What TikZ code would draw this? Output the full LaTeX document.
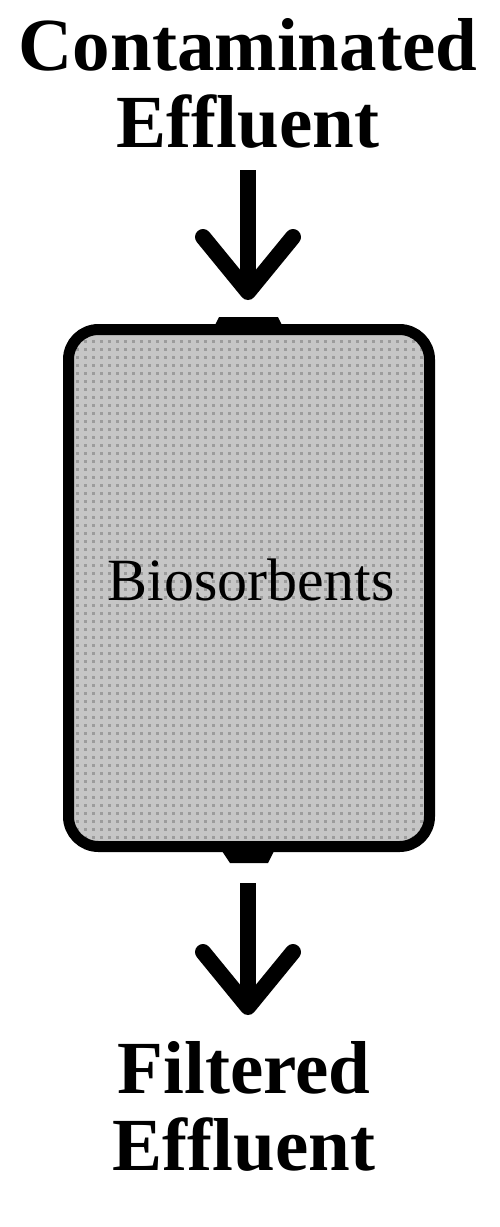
\documentclass[tikz,border=0pt]{standalone}
\usepackage{fontspec}
\setmainfont{Liberation Serif}
\usetikzlibrary{arrows.meta,positioning,calc,patterns.meta}

\definecolor{boxgray}{RGB}{198,198,198}
\definecolor{dotgray}{RGB}{156,156,156}

\tikzdeclarepattern{
  name=biodots,
  type=uncolored,
  bounding box={(0,0) and (7.6pt,7.6pt)},
  tile size={(7.6pt,7.6pt)},
  code={\fill (0,0) rectangle (3pt,3pt);}
}

\begin{document}
\begin{tikzpicture}[
  x=1pt, y=-1pt,
  every node/.style={align=center, inner sep=0pt},
  label/.style={font=\fontsize{75}{77}\selectfont\bfseries},
  column/.style={rectangle, draw, line width=11pt, rounded corners=30pt,
    minimum width=361pt, minimum height=517pt,
    preaction={fill=boxgray}, pattern=biodots, pattern color=dotgray},
  flow/.style={line width=16pt,
    -{Straight Barb[length=55pt, width=90pt, line width=16pt, round]}},
  tab/.style={fill=black}
]
\useasboundingbox (0,0) rectangle (500,1227);

% Top label: incoming effluent
\node[label, anchor=base] (contam) at (248,147) {Contaminated\\Effluent};

% The packed column
\node[column] (filter) at (249,588) {};
\node[font=\fontsize{60}{60}\selectfont, anchor=base] (media) at (251,600) {Biosorbents};

% Inlet and outlet tabs
\fill[tab] ($(filter.north)+(-34,1)$) -- ($(filter.north)+(-30,-7)$)
  -- ($(filter.north)+(29,-7)$) -- ($(filter.north)+(33,1)$) -- cycle;
\fill[tab] ($(filter.south)+(-27,-1)$) -- ($(filter.south)+(-19,11)$)
  -- ($(filter.south)+(19,11)$) -- ($(filter.south)+(25,-1)$) -- cycle;

% Bottom label: outgoing effluent
\node[label, anchor=base] (filtered) at (244,1170) {Filtered\\Effluent};

% Arrows
\coordinate (inTop) at (248,170);
\coordinate (outTip) at (248,1015);
\draw[flow, shorten >=24pt] (inTop) -- (filter.north -| inTop);
\draw[flow, shorten <=31pt] (filter.south -| outTip) -- (outTip);

\end{tikzpicture}
\end{document}
